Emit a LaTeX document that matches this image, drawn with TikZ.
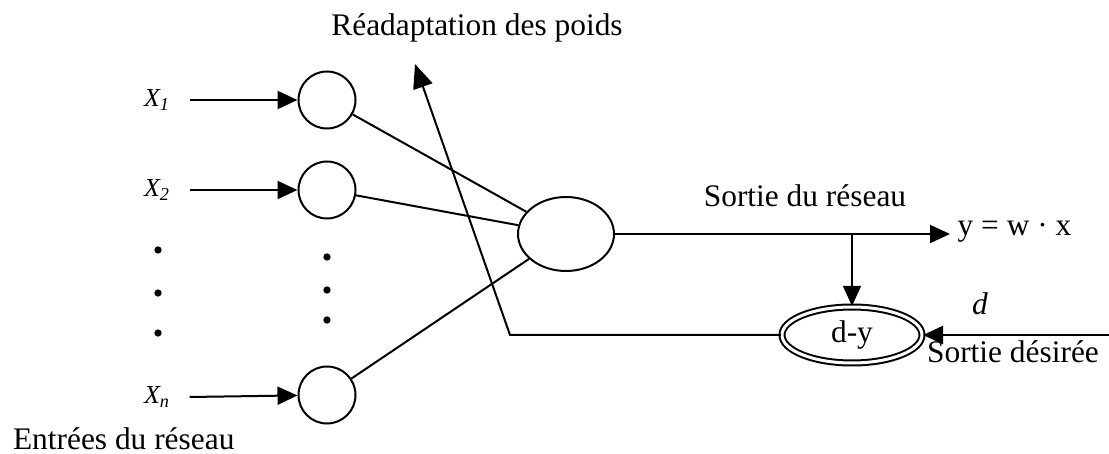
\documentclass[tikz,border=0pt]{standalone}
\usepackage{fontspec}
\setmainfont{Liberation Serif}
\usetikzlibrary{shapes.geometric,arrows.meta}

\begin{document}
\begin{tikzpicture}[x=0.5pt, y=-0.5pt, line width=1pt,
  font=\fontsize{15.7}{18}\selectfont,
  arr/.style={-{Triangle[length=10pt, width=9pt]}},
  neuron/.style={draw, circle, minimum size=28.5pt, inner sep=0pt},
  xlabel/.style={font=\fontsize{13}{15}\selectfont},
  dot/.style={circle, fill, inner sep=1.3pt}]
\useasboundingbox (0,0) rectangle (1109,454);

% entrees
\node[xlabel](x1) at (157,100) {\textit{X\textsubscript{1}}};
\node[xlabel](x2) at (157,190) {\textit{X\textsubscript{2}}};
\node[xlabel](xn) at (157,397) {\textit{X\textsubscript{n}}};
\node[dot](d1) at (158,250) {};
\node[dot](d2) at (158,293) {};
\node[dot](d3) at (158,333) {};

\node[neuron](in1) at (327,100) {};
\node[neuron](in2) at (327,190) {};
\node[neuron](inn) at (327,395) {};
\node[dot](e1) at (327,257) {};
\node[dot](e2) at (327,290) {};
\node[dot](e3) at (327,320) {};

\draw[arr] ([xshift=6pt]x1.east) -- (in1);
\draw[arr] ([xshift=6pt]x2.east) -- (in2);
\draw[arr] ([xshift=6pt]xn.east) -- (inn);

% neurone de sortie
\node[draw, ellipse, minimum width=48pt, minimum height=37pt, inner sep=0pt](out) at (566,234) {};
\draw (in1) -- (out);
\draw (in2) -- (out);
\draw (inn) -- (out);

\node[anchor=west](y) at (950,232) {y = w · x};
\draw[arr] (out.east) -- (y.west |- out.east);
\node(sr) at (805,196) {Sortie du réseau};

% erreur
\node[draw, ellipse, double, double distance=1.5pt, minimum width=70pt, minimum height=28pt, inner sep=0pt](dy) at (852,335) {d-y};
\coordinate (br) at (852,234);
\draw[arr, line width=0.6pt] (br) -- (dy.north);

\coordinate (dsrc) at (1109,335);
\draw[arr] (dsrc) -- (dy.east);
\node(d) at (980,304) {\textit{d}};
\node(sd) at (1013,352) {Sortie désirée};

% readaptation
\coordinate (fb) at (510,335);
\coordinate (tip) at (415,64);
\draw[-{Triangle[length=12pt, width=10pt]}] (dy.west) -- (fb) -- (tip);
\node(rp) at (477,28) {Réadaptation des poids};

\node[anchor=base west, inner sep=0pt](er) at (12,450) {Entrées du réseau};
\end{tikzpicture}
\end{document}
